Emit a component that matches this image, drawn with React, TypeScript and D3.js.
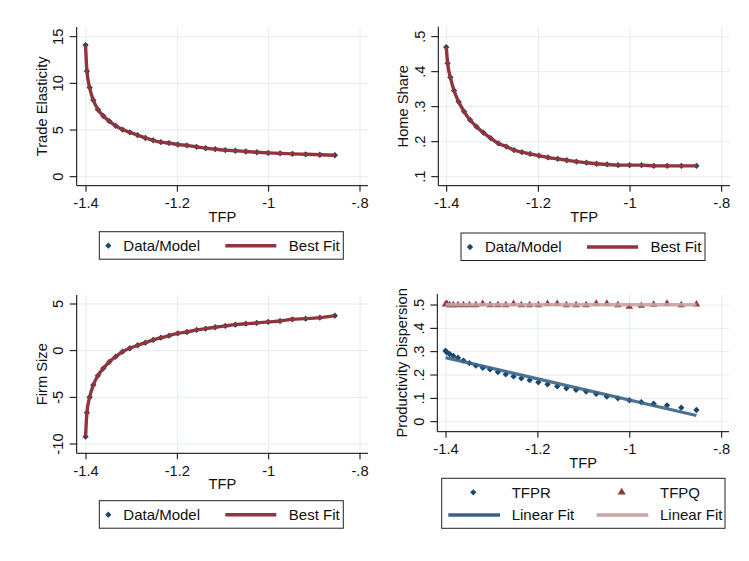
import React from 'react';
import * as d3 from 'd3';

// shared x values (TFP)
const tfp = [-1.401, -1.398, -1.392, -1.384, -1.374, -1.362, -1.349, -1.335, -1.320, -1.304,
  -1.287, -1.270, -1.253, -1.236, -1.218, -1.199, -1.179, -1.158, -1.138, -1.117,
  -1.095, -1.073, -1.050, -1.026, -1.001, -0.975, -0.948, -0.919, -0.888, -0.855];

const tradeElasticity = [14.1, 11.3, 9.55, 8.2, 7.2, 6.5, 5.95, 5.45, 5.05, 4.75,
  4.45, 4.15, 3.9, 3.7, 3.6, 3.45, 3.35, 3.2, 3.05, 2.95,
  2.85, 2.78, 2.7, 2.62, 2.55, 2.5, 2.45, 2.4, 2.35, 2.3];

const homeShare = [0.470, 0.424, 0.384, 0.346, 0.314, 0.286, 0.262, 0.243, 0.226, 0.210,
  0.195, 0.186, 0.176, 0.170, 0.165, 0.160, 0.155, 0.151, 0.147, 0.143,
  0.140, 0.137, 0.135, 0.133, 0.133, 0.133, 0.131, 0.131, 0.131, 0.131];

const firmSize = [-9.21, -6.64, -4.99, -3.68, -2.68, -1.89, -1.21, -0.64, -0.11, 0.26,
  0.58, 0.86, 1.15, 1.39, 1.61, 1.86, 2.0, 2.22, 2.36, 2.51,
  2.65, 2.79, 2.89, 2.97, 3.08, 3.18, 3.36, 3.43, 3.54, 3.75];

const tfpr = [0.304, 0.296, 0.290, 0.282, 0.274, 0.262, 0.251, 0.240, 0.231, 0.224,
  0.213, 0.203, 0.194, 0.186, 0.178, 0.169, 0.160, 0.151, 0.143, 0.136,
  0.129, 0.119, 0.108, 0.100, 0.092, 0.084, 0.077, 0.070, 0.060, 0.050];

const tfpq = [0.503, 0.505, 0.500, 0.500, 0.500, 0.500, 0.500, 0.500, 0.505, 0.500,
  0.500, 0.500, 0.505, 0.500, 0.500, 0.500, 0.505, 0.505, 0.500, 0.500,
  0.500, 0.506, 0.506, 0.500, 0.493, 0.497, 0.502, 0.506, 0.500, 0.503];

const xTicks = [-1.4, -1.2, -1, -0.8];
const xTickLabels = ['-1.4', '-1.2', '-1', '-.8'];

const teTicks = [0, 5, 10, 15];
const teTickLabels = ['0', '5', '10', '15'];
const hsTicks = [0.1, 0.2, 0.3, 0.4, 0.5];
const hsTickLabels = ['.1', '.2', '.3', '.4', '.5'];
const fsTicks = [-10, -5, 0, 5];
const fsTickLabels = ['-10', '-5', '0', '5'];
const pdTicks = [0, 0.1, 0.2, 0.3, 0.4, 0.5];
const pdTickLabels = ['0', '.1', '.2', '.3', '.4', '.5'];

const NAVY = '#1a476f';
const MAROON = '#90353b';
const PALE = '#c9a3a5';
const NAVY_FIT = '#3b6385';
const GRID = '#e4ecef';
const FONT = '"Liberation Sans", Arial, sans-serif';

const diamond = d3.symbol(d3.symbolSquare, 20)();
const triangle = d3.symbol(d3.symbolTriangle, 24)();
const triangleLegend = d3.symbol(d3.symbolTriangle, 28)();

// ordinary least squares, used for the "Linear Fit" lines
function ols(xs: number[], ys: number[]) {
  const mx = d3.mean(xs)!;
  const my = d3.mean(ys)!;
  let sxy = 0, sxx = 0;
  xs.forEach((x, i) => { sxy += (x - mx) * (ys[i] - my); sxx += (x - mx) ** 2; });
  const b = sxy / sxx;
  return (x: number) => my + b * (x - mx);
}

type Frame = {
  left: number; right: number; top: number; bottom: number;
  xRange: [number, number];
  yDomain: [number, number]; yRange: [number, number];
  yTicks: number[]; yLabels: string[]; yTitle: string;
};

function Axes({ f, x, y }: { f: Frame; x: d3.ScaleLinear<number, number>; y: d3.ScaleLinear<number, number> }) {
  const labX = f.left - 13.4;
  const titleX = f.left - 30;
  const midY = (f.top + f.bottom) / 2;
  const midX = (f.left + f.right) / 2;
  return (
    <g fontFamily={FONT} fontSize={14.7} fill="#111">
      {f.yTicks.map(t => (
        <line key={'gy' + t} x1={f.left} x2={f.right} y1={y(t)} y2={y(t)} stroke={GRID} strokeWidth={1} />
      ))}
      {xTicks.map(t => (
        <line key={'gx' + t} x1={x(t)} x2={x(t)} y1={f.top} y2={f.bottom} stroke={GRID} strokeWidth={1} />
      ))}
      <line x1={f.left} x2={f.left} y1={f.top} y2={f.bottom} stroke="#000" />
      <line x1={f.left} x2={f.right} y1={f.bottom} y2={f.bottom} stroke="#000" />
      {f.yTicks.map((t, i) => (
        <g key={'ty' + t}>
          <line x1={f.left - 7} x2={f.left} y1={y(t)} y2={y(t)} stroke="#000" />
          <text x={labX} y={y(t)} textAnchor="middle" transform={`rotate(-90 ${labX} ${y(t)})`}>{f.yLabels[i]}</text>
        </g>
      ))}
      {xTicks.map((t, i) => (
        <g key={'tx' + t}>
          <line x1={x(t)} x2={x(t)} y1={f.bottom} y2={f.bottom + 6} stroke="#000" />
          <text x={x(t)} y={f.bottom + 22.5} textAnchor="middle">{xTickLabels[i]}</text>
        </g>
      ))}
      <text x={midX} y={f.bottom + 36} textAnchor="middle">TFP</text>
      <text x={titleX} y={midY} textAnchor="middle" transform={`rotate(-90 ${titleX} ${midY})`}>{f.yTitle}</text>
    </g>
  );
}

function FitPanel({ f, values, legend }: { f: Frame; values: number[]; legend: { x: number; y: number } }) {
  const x = d3.scaleLinear().domain([-1.4, -0.8]).range(f.xRange);
  const y = d3.scaleLinear().domain(f.yDomain).range(f.yRange);
  const pts: [number, number][] = tfp.map((t, i) => [t, values[i]]);
  const path = d3.line<[number, number]>().x(d => x(d[0])).y(d => y(d[1])).curve(d3.curveMonotoneX)(pts)!;
  const ly = legend.y + 14;
  return (
    <g>
      <Axes f={f} x={x} y={y} />
      {pts.map((d, i) => (
        <path key={i} d={diamond} fill={NAVY} transform={`translate(${x(d[0])},${y(d[1])}) rotate(45)`} />
      ))}
      <path d={path} fill="none" stroke={MAROON} strokeWidth={3.4} strokeLinejoin="round" />
      <g fontFamily={FONT} fontSize={15} fill="#111">
        <rect x={legend.x} y={legend.y} width={244} height={27.5} fill="#fff" stroke="#222" />
        <path d={diamond} fill={NAVY} transform={`translate(${legend.x + 9},${ly}) rotate(45)`} />
        <text x={legend.x + 24} y={ly + 5.3}>Data/Model</text>
        <line x1={legend.x + 126} x2={legend.x + 177} y1={ly} y2={ly} stroke={MAROON} strokeWidth={3.4} />
        <text x={legend.x + 189.5} y={ly + 5.3}>Best Fit</text>
      </g>
    </g>
  );
}

function DispersionPanel({ f }: { f: Frame }) {
  const x = d3.scaleLinear().domain([-1.4, -0.8]).range(f.xRange);
  const y = d3.scaleLinear().domain(f.yDomain).range(f.yRange);
  const fitR = ols(tfp, tfpr);
  const fitQ = ols(tfp, tfpq);
  const x0 = d3.min(tfp)!, x1 = d3.max(tfp)!;
  const lx = 441.7, ly = 478.3;
  return (
    <g>
      <Axes f={f} x={x} y={y} />
      {tfp.map((t, i) => (
        <path key={'r' + i} d={diamond} fill={NAVY} transform={`translate(${x(t)},${y(tfpr[i])}) rotate(45)`} />
      ))}
      {tfp.map((t, i) => (
        <path key={'q' + i} d={triangle} fill={MAROON} transform={`translate(${x(t)},${y(tfpq[i])})`} />
      ))}
      <line x1={x(x0)} x2={x(x1)} y1={y(fitR(x0))} y2={y(fitR(x1))} stroke={NAVY_FIT} strokeWidth={3.2} strokeOpacity={0.9} />
      <line x1={x(x0)} x2={x(x1)} y1={y(fitQ(x0))} y2={y(fitQ(x1))} stroke={PALE} strokeWidth={3.4} strokeOpacity={0.9} />
      <g fontFamily={FONT} fontSize={15} fill="#111">
        <rect x={lx} y={ly} width={283.3} height={50} fill="#fff" stroke="#222" />
        <path d={diamond} fill={NAVY} transform={`translate(${lx + 31.6},${ly + 14}) rotate(45)`} />
        <text x={lx + 70} y={ly + 19.3}>TFPR</text>
        <path d={triangleLegend} fill={MAROON} transform={`translate(${lx + 180},${ly + 14})`} />
        <text x={lx + 218.3} y={ly + 19.3}>TFPQ</text>
        <line x1={lx + 6.6} x2={lx + 58.3} y1={ly + 36.7} y2={ly + 36.7} stroke={NAVY_FIT} strokeWidth={3.4} />
        <text x={lx + 70} y={ly + 42}>Linear Fit</text>
        <line x1={lx + 155} x2={lx + 206.6} y1={ly + 36.7} y2={ly + 36.7} stroke={PALE} strokeWidth={3.4} />
        <text x={lx + 218.3} y={ly + 42}>Linear Fit</text>
      </g>
    </g>
  );
}

const frameTE: Frame = {
  left: 76.7, right: 368, top: 27, bottom: 185.7, xRange: [86, 360],
  yDomain: [0, 15], yRange: [176.7, 36.7], yTicks: teTicks, yLabels: teTickLabels, yTitle: 'Trade Elasticity',
};
const frameHS: Frame = {
  left: 438.3, right: 730, top: 26.7, bottom: 185.7, xRange: [446.7, 721.7],
  yDomain: [0.1, 0.5], yRange: [176.7, 36.7], yTicks: hsTicks, yLabels: hsTickLabels, yTitle: 'Home Share',
};
const frameFS: Frame = {
  left: 76.7, right: 368, top: 295, bottom: 453.3, xRange: [86, 360],
  yDomain: [-10, 5], yRange: [444, 304], yTicks: fsTicks, yLabels: fsTickLabels, yTitle: 'Firm Size',
};
const framePD: Frame = {
  left: 437.3, right: 729, top: 294, bottom: 431.7, xRange: [446, 721.7],
  yDomain: [0, 0.5], yRange: [421.7, 305], yTicks: pdTicks, yLabels: pdTickLabels, yTitle: 'Productivity Dispersion',
};

export default function App() {
  return (
    <svg width={749} height={561} style={{ position: 'absolute', left: 0, top: 0, background: '#fff' }}>
      <rect width={749} height={561} fill="#fff" />
      <FitPanel f={frameTE} values={tradeElasticity} legend={{ x: 99.3, y: 231.7 }} />
      <FitPanel f={frameHS} values={homeShare} legend={{ x: 461, y: 233 }} />
      <FitPanel f={frameFS} values={firmSize} legend={{ x: 99.3, y: 500.7 }} />
      <DispersionPanel f={framePD} />
    </svg>
  );
}
